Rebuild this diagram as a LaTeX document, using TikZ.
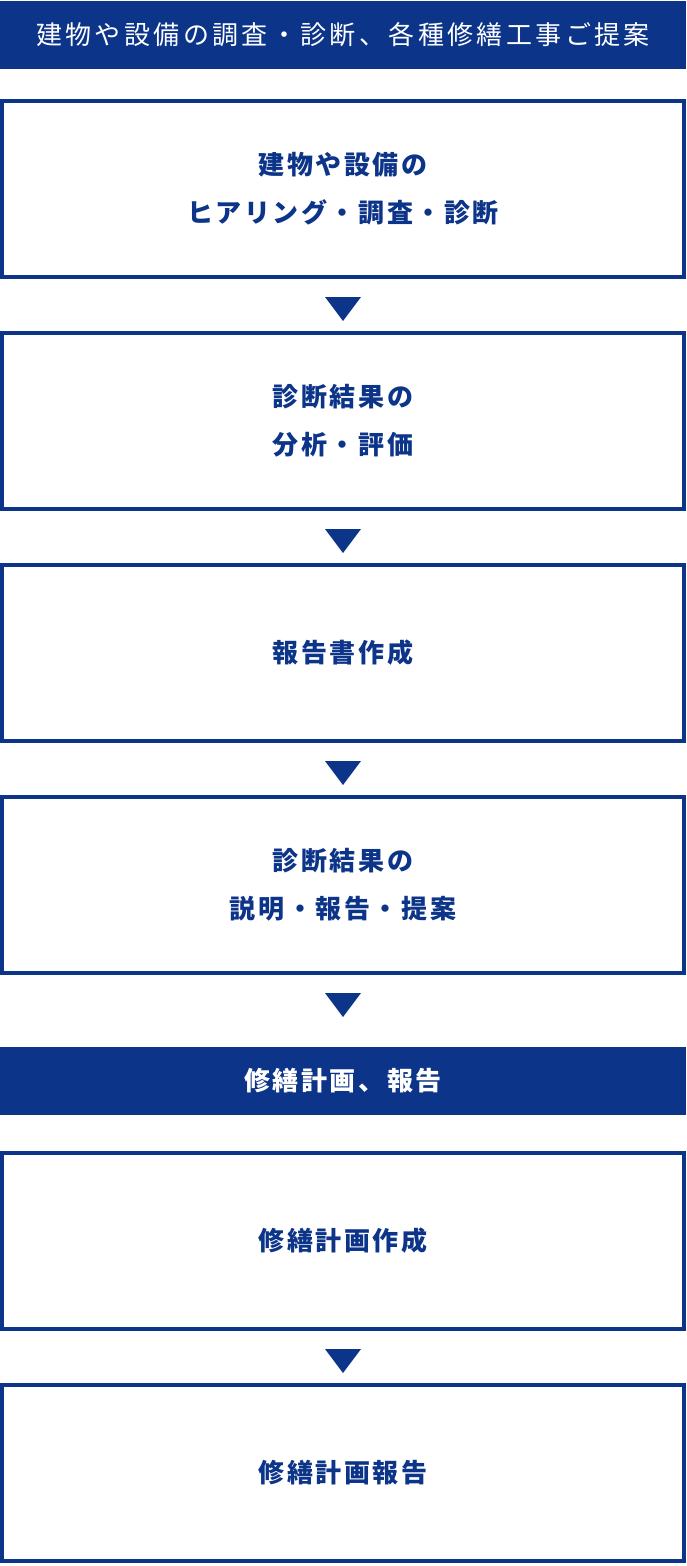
\documentclass[tikz,border=0pt]{standalone}
\usepackage{fontspec}
\usetikzlibrary{calc}
\newfontfamily\jpfont{Noto Sans CJK JP}[LetterSpace=10]
\newfontfamily\jpheadfont{Noto Sans CJK JP}[LetterSpace=13]
\definecolor{navy}{RGB}{12,52,137}
\tikzset{
  x=1pt, y=1pt,
  stepbox/.style={draw=navy, line width=4pt, fill=white, minimum width=682pt, minimum height=176pt,
    inner sep=0pt, outer sep=0pt, align=center, text=navy,
    font=\jpfont\bfseries\fontsize{26}{48}\selectfont},
  headbar/.style={fill=navy, draw=none, minimum width=686pt, minimum height=68pt,
    inner sep=0pt, outer sep=0pt, align=center, text=white},
  tri/.style={fill=navy}
}
\newcommand{\downtri}[1]{\fill[tri] ($(#1.south)+(-18,-20)$) -- ++(36,0) -- ++(-18,-24) -- cycle;}
\begin{document}
\begin{tikzpicture}
\useasboundingbox (0,0) rectangle (686,-1566);
\node[headbar, font=\jpheadfont\fontsize{26}{48}\selectfont] (h1) at (343,-35) {建物や設備の調査・診断、各種修繕工事ご提案};
\node[stepbox] (b1) at (343,-189) {建物や設備の\\ヒアリング・調査・診断};
\node[stepbox] (b2) at (343,-421) {診断結果の\\分析・評価};
\node[stepbox] (b3) at (343,-653) {報告書作成};
\node[stepbox] (b4) at (343,-885) {診断結果の\\説明・報告・提案};
\node[headbar, font=\jpfont\bfseries\fontsize{26}{48}\selectfont] (h2) at (343,-1081) {修繕計画、報告};
\node[stepbox] (b5) at (343,-1241) {修繕計画作成};
\node[stepbox] (b6) at (343,-1473) {修繕計画報告};
\downtri{b1}
\downtri{b2}
\downtri{b3}
\downtri{b4}
\downtri{b5}
\end{tikzpicture}
\end{document}
